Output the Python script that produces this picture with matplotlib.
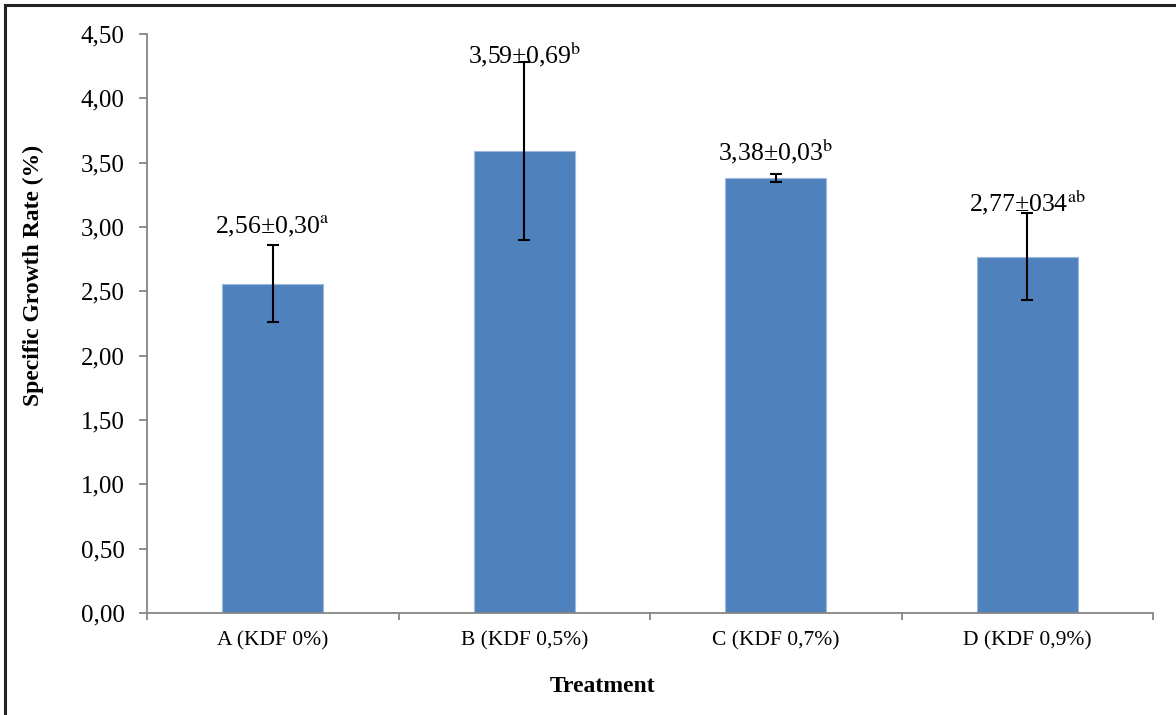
import matplotlib
matplotlib.use("Agg")
import matplotlib.pyplot as plt
from matplotlib.lines import Line2D

plt.rcParams['font.family'] = ['Liberation Serif', 'DejaVu Serif']
plt.rcParams['mathtext.fontset'] = 'stix'

categories = ["A (KDF 0%)", "B (KDF 0,5%)", "C (KDF 0,7%)", "D (KDF 0,9%)"]
means = [2.56, 3.59, 3.38, 2.77]
errors = [0.30, 0.69, 0.03, 0.34]
label_texts = ["2,56±0,30", "3,59±0,69", "3,38±0,03", "2,77±034"]
label_sups = ["a", "b", "b", "ab"]
label_y = [2.95, 4.27, 3.52, 3.12]
yticks = [0.0, 0.5, 1.0, 1.5, 2.0, 2.5, 3.0, 3.5, 4.0, 4.5]

fig = plt.figure(figsize=(11.76, 7.15), dpi=100)
ax = fig.add_axes([147/1176, 1-613/715, (1153-147)/1176, (613-34)/715])

x = list(range(len(categories)))
ax.bar(x, means, width=0.4, color='#4F81BD', edgecolor='#9DB9DE', linewidth=0.8, zorder=2)
ax.errorbar(x, means, yerr=errors, fmt='none', ecolor='black', elinewidth=1.5,
            capsize=4, capthick=1.5, zorder=3)

for xi, t, s, yv in zip(x, label_texts, label_sups, label_y):
    ax.text(xi, yv, t + r"$^{\mathrm{" + s + "}}$", ha='center', va='baseline',
            fontsize=18.5, color='black', zorder=4)

ax.set_xlim(-0.5, len(categories) - 0.5)
ax.set_ylim(0, 4.5)
ax.set_yticks(yticks)
ax.set_yticklabels([f"{v:.2f}".replace('.', ',') for v in yticks], fontsize=18)
ax.set_xticks(x)
ax.set_xticklabels(categories, fontsize=15.5)
ax.set_xticks([i - 0.5 for i in range(len(categories) + 1)], minor=True)

gray = '#868686'
for sp in ['top', 'right']:
    ax.spines[sp].set_visible(False)
for sp in ['left', 'bottom']:
    ax.spines[sp].set_color(gray)
    ax.spines[sp].set_linewidth(1.3)
ax.tick_params(axis='y', length=6, width=1.3, color=gray, pad=10, direction='out')
ax.tick_params(axis='x', which='major', length=0, pad=13)
ax.tick_params(axis='x', which='minor', length=5, width=1.3, color=gray, direction='out')

fig.text(33/1176, 1-275/715, "Specific Growth Rate (%)", rotation=90, ha='center', va='center',
         fontsize=17, fontweight='bold')
fig.text(603/1176, 1-686/715, "Treatment", ha='center', va='center', fontsize=17, fontweight='bold')

fig.add_artist(Line2D([5/1176, 5/1176], [0, 1-5/715], color='#222222', lw=2.2, transform=fig.transFigure))
fig.add_artist(Line2D([5/1176, 1], [1-5/715, 1-5/715], color='#222222', lw=2.2, transform=fig.transFigure))

fig.savefig("out.png", dpi=100)
